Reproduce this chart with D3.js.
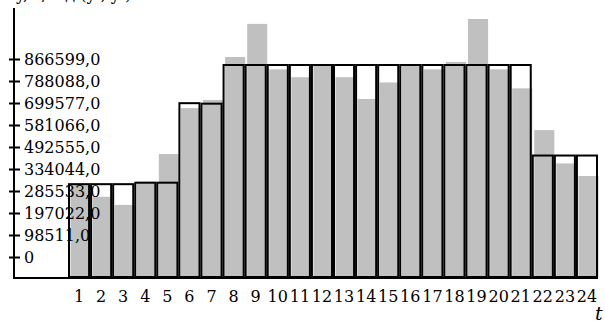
<!DOCTYPE html>
<html>
<head>
<meta charset="utf-8">
<script src="https://cdn.jsdelivr.net/npm/d3@7"></script>
<style>
  body { margin: 0; background: #fff; }
  svg { display: block; font-family: "DejaVu Serif", serif; }
</style>
</head>
<body>
<svg id="chart" width="605" height="323"></svg>
<script>
// hours
var hours = d3.range(1, 25);
// actual load (grey bars)
var actual = [382000, 329000, 296000, 390000, 502000, 688000, 721000, 895000,
              1029000, 845000, 813000, 862000, 813000, 725000, 792000, 862000,
              845000, 875000, 1049000, 845000, 768000, 599000, 464000, 413000];
// stepped plan (black outlined bars)
var plan = [384000, 384000, 384000, 390000, 390000, 712000, 710000, 866599,
            866599, 866599, 866599, 866599, 866599, 866599, 866599, 866599,
            866599, 866599, 866599, 866599, 866599, 500000, 500000, 500000];
// y tick labels as printed
var yLabels = ["0", "98511,0", "197022,0", "285533,0", "334044,0", "492555,0",
               "581066,0", "699577,0", "788088,0", "866599,0"];

var svg = d3.select("#chart");

var axisX = 14,
    base = 278;

var x = d3.scaleBand()
  .domain(hours)
  .range([68, 598])
  .padding(0);

var y = d3.scaleLinear()
  .domain([0, 866599])
  .range([base, 64]);

var yTick = d3.scalePoint()
  .domain(yLabels)
  .range([257, 59]);

var w = x.bandwidth();

// cut-off title at the top
svg.append("text")
  .attr("x", 16)
  .attr("y", 0)
  .style("font-size", "16px")
  .text("y, т/год  (y  , y   )");

// grey bars
svg.selectAll(".act")
  .data(actual)
  .join("rect")
  .attr("class", "act")
  .attr("x", (d, i) => x(hours[i]) + 2.5)
  .attr("width", w - 2)
  .attr("y", d => y(d))
  .attr("height", d => base - y(d))
  .attr("fill", "#c0c0c0");

// outlined plan bars
svg.selectAll(".plan")
  .data(plan)
  .join("rect")
  .attr("class", "plan")
  .attr("x", (d, i) => x(hours[i]) + 1)
  .attr("width", w - 2)
  .attr("y", d => y(d) + 1)
  .attr("height", d => base - y(d) - 2)
  .attr("fill", "none")
  .attr("stroke", "#000")
  .attr("stroke-width", 2);

// axis lines
svg.append("line")
  .attr("x1", axisX).attr("x2", axisX)
  .attr("y1", 8).attr("y2", base + 1)
  .attr("stroke", "#000").attr("stroke-width", 2);
svg.append("line")
  .attr("x1", axisX - 1).attr("x2", 598)
  .attr("y1", base).attr("y2", base)
  .attr("stroke", "#000").attr("stroke-width", 2);

// y axis
var gy = svg.append("g")
  .attr("transform", "translate(" + axisX + ",0)")
  .call(d3.axisRight(yTick).tickSize(6).tickPadding(5));
gy.select(".domain").remove();
gy.selectAll(".tick line")
  .attr("x1", -5).attr("x2", 6)
  .attr("stroke", "#000").attr("stroke-width", 2);
gy.selectAll(".tick text")
  .attr("x", 10)
  .attr("fill", "#000")
  .style("font-family", "DejaVu Serif, serif")
  .style("font-size", "16px");

// x axis
var gx = svg.append("g")
  .attr("transform", "translate(0," + base + ")")
  .call(d3.axisBottom(x).tickSize(0).tickPadding(13));
gx.select(".domain").remove();
gx.selectAll(".tick text")
  .attr("fill", "#000")
  .style("font-family", "DejaVu Serif, serif")
  .style("font-size", "16px");

// axis name
svg.append("text")
  .attr("x", 595)
  .attr("y", 320)
  .style("font-size", "19px")
  .style("font-style", "italic")
  .text("t");
</script>
</body>
</html>
